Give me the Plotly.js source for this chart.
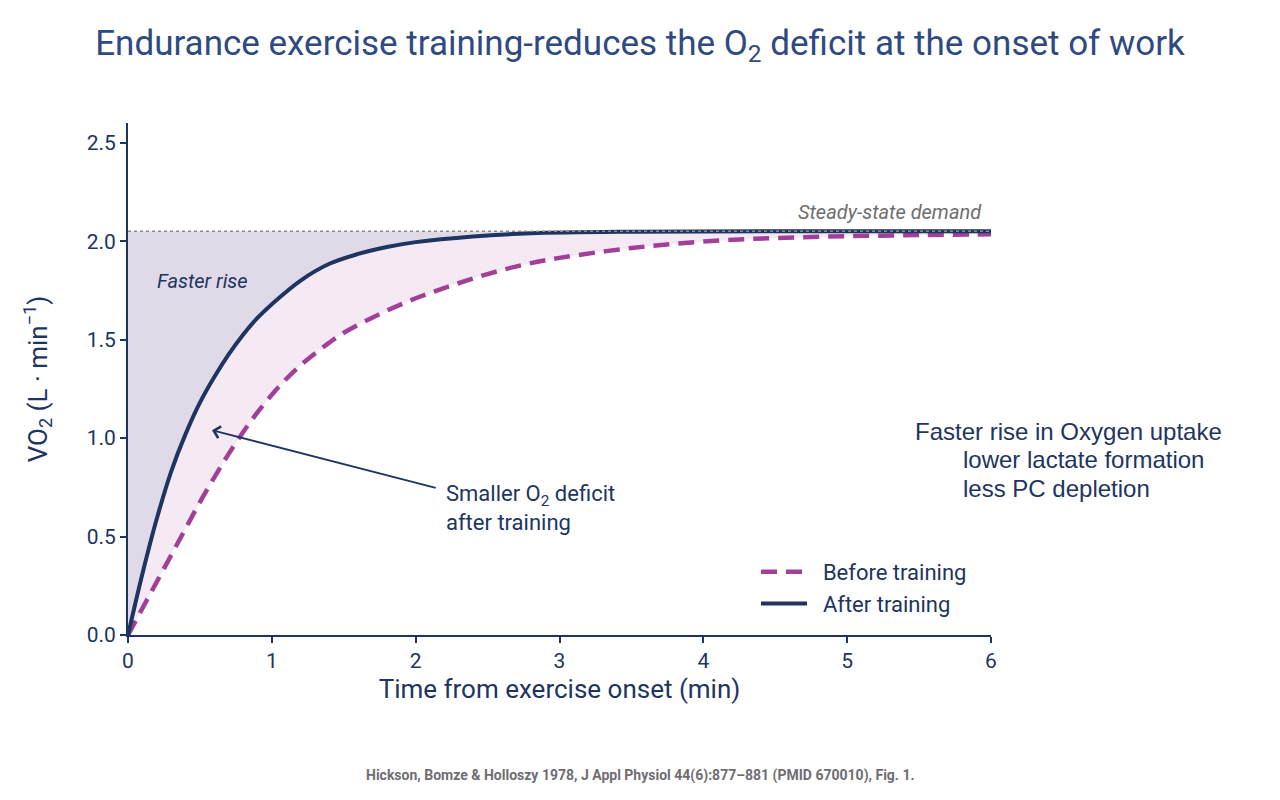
<!DOCTYPE html>
<html><head><meta charset="utf-8">
<script src="https://cdn.plot.ly/plotly-3.0.1.min.js"></script>
<style>html,body{margin:0;padding:0;background:#fff;}#chart{width:1280px;height:800px;}</style>
</head><body><div id="chart"></div>
<script>
const steadyState = 2.05;
const timeBefore = [0, 0.1, 0.2, 0.3, 0.4, 0.5, 0.6, 0.7, 0.8, 0.9, 1.0, 1.1, 1.2, 1.3, 1.4, 1.5, 1.75, 2.0, 2.25, 2.5, 2.75, 3.0, 3.5, 4.0, 4.5, 5.0, 5.5, 6.0];
const vo2Before  = [0, 0.135, 0.27, 0.405, 0.54, 0.675, 0.80, 0.92, 1.03, 1.13, 1.22, 1.30, 1.37, 1.43, 1.485, 1.535, 1.63, 1.71, 1.775, 1.833, 1.88, 1.915, 1.965, 1.998, 2.016, 2.025, 2.031, 2.035];
const timeAfter  = [0, 0.1, 0.2, 0.3, 0.4, 0.5, 0.6, 0.7, 0.8, 0.9, 1.0, 1.2, 1.4, 1.6, 1.8, 2.0, 2.4, 2.8, 3.5, 4.5, 6.0];
const vo2After   = [0, 0.31, 0.59, 0.83, 1.02, 1.18, 1.31, 1.425, 1.525, 1.61, 1.68, 1.80, 1.885, 1.935, 1.97, 1.995, 2.024, 2.04, 2.048, 2.05, 2.05];
const xTicks = [0, 1, 2, 3, 4, 5, 6];
const yTicks = [0, 0.5, 1.0, 1.5, 2.0, 2.5];

const navy = '#1e3461';
const magenta = '#a23f99';
const F = 'Roboto, sans-serif';
const ARIAL = 'Liberation Sans, Arial, sans-serif';

const traces = [
  {x: [0, 6], y: [steadyState, steadyState], mode: 'lines', line: {width: 0}, showlegend: false, hoverinfo: 'skip'},
  {x: timeAfter, y: vo2After, mode: 'lines', line: {width: 0, shape: 'spline'}, fill: 'tonexty', fillcolor: '#e0d9e7', showlegend: false, hoverinfo: 'skip'},
  {x: timeBefore, y: vo2Before, mode: 'lines', line: {width: 0, shape: 'spline'}, fill: 'tonexty', fillcolor: '#f5e9f4', showlegend: false, hoverinfo: 'skip'},
  {x: timeBefore, y: vo2Before, mode: 'lines', name: '\u00a0\u00a0Before training', line: {color: magenta, width: 4.5, dash: '16px,9px', shape: 'spline'}},
  {x: timeAfter, y: vo2After, mode: 'lines', name: '\u00a0\u00a0After training', line: {color: navy, width: 4, shape: 'spline'}}
];

const layout = {
  width: 1280, height: 800,
  margin: {l: 128, r: 289, t: 123, b: 165},
  paper_bgcolor: '#fff', plot_bgcolor: '#fff',
  font: {family: F, color: navy, size: 19},
  title: {text: 'Endurance exercise training-reduces the O<sub>2</sub> deficit at the onset of work',
          font: {family: F, size: 35, color: '#2f4a80'}, x: 0.5, xanchor: 'center', y: 0.947, yanchor: 'middle'},
  xaxis: {range: [0, 6], tickvals: xTicks, showgrid: false, zeroline: false, showline: true, linecolor: navy, linewidth: 2,
          ticks: 'outside', ticklen: 6, tickcolor: navy, tickwidth: 1.5, tickfont: {size: 21, color: navy},
          title: {text: 'Time from exercise onset (min)', font: {size: 26, color: navy}, standoff: 8}},
  yaxis: {range: [0, 2.6], tickvals: yTicks, tickformat: '.1f', showgrid: false, zeroline: false, showline: true, linecolor: navy, linewidth: 2,
          ticks: 'outside', ticklen: 6, tickcolor: navy, tickwidth: 1.5, tickfont: {size: 21, color: navy},
          title: {text: 'VO<sub>2</sub> (L · min<sup>−1</sup>)', font: {size: 26, color: navy}, standoff: 32}},
  legend: {x: (756 - 128) / 863, y: 0.164, xanchor: 'left', yanchor: 'top', traceorder: 'normal', itemwidth: 46,
           font: {size: 22, color: navy}, bgcolor: 'rgba(0,0,0,0)'},
  shapes: [
    {type: 'line', xref: 'x', yref: 'y', x0: 0, x1: 6, y0: steadyState, y1: steadyState, line: {color: '#8a8a8a', width: 1.5, dash: 'dot'}, layer: 'above'}
  ],
  annotations: [
    {x: 0.19, y: 1.80, xref: 'x', yref: 'y', text: '<i>Faster rise</i>', showarrow: false, xanchor: 'left', yanchor: 'middle', font: {size: 20, color: navy}},
    {x: 5.95, y: 2.15, xref: 'x', yref: 'y', text: '<i>Steady-state demand</i>', showarrow: false, xanchor: 'right', yanchor: 'middle', font: {size: 20, color: '#6e6e6e'}},
    {x: 0.584, y: 1.04, ax: 2.15, ay: 0.745, xref: 'x', yref: 'y', axref: 'x', ayref: 'y', text: '', showarrow: true, arrowhead: 4, arrowsize: 1.3, arrowwidth: 1.8, arrowcolor: navy},
    {x: 2.20, y: 0.647, xref: 'x', yref: 'y', text: 'Smaller O<sub>2</sub> deficit<br>after training', showarrow: false, xanchor: 'left', yanchor: 'middle', align: 'left', font: {size: 22, color: navy}},
    {x: 0.9096, y: 0.398, xref: 'paper', yref: 'paper', text: 'Faster rise in Oxygen uptake', showarrow: false, xanchor: 'left', yanchor: 'middle', font: {family: ARIAL, size: 24, color: navy}},
    {x: 0.965, y: 0.343, xref: 'paper', yref: 'paper', text: 'lower lactate formation', showarrow: false, xanchor: 'left', yanchor: 'middle', font: {family: ARIAL, size: 24, color: navy}},
    {x: 0.965, y: 0.287, xref: 'paper', yref: 'paper', text: 'less PC depletion', showarrow: false, xanchor: 'left', yanchor: 'middle', font: {family: ARIAL, size: 24, color: navy}},
    {x: 0.5, y: 0, xref: 'paper', yref: 'paper', text: '<b>Hickson, Bomze &amp; Holloszy 1978, J Appl Physiol 44(6):877–881 (PMID 670010), Fig. 1.</b>', showarrow: false, xanchor: 'center', yanchor: 'middle', font: {size: 14, color: '#6e6e72'}}
  ]
};
// footer position in paper units (converted from the page layout)
layout.annotations[7].x = (640 - 128) / 863;
layout.annotations[7].y = (635 - 775) / 512;

Plotly.newPlot('chart', traces, layout, {displayModeBar: false, responsive: false});
</script>
</body></html>
